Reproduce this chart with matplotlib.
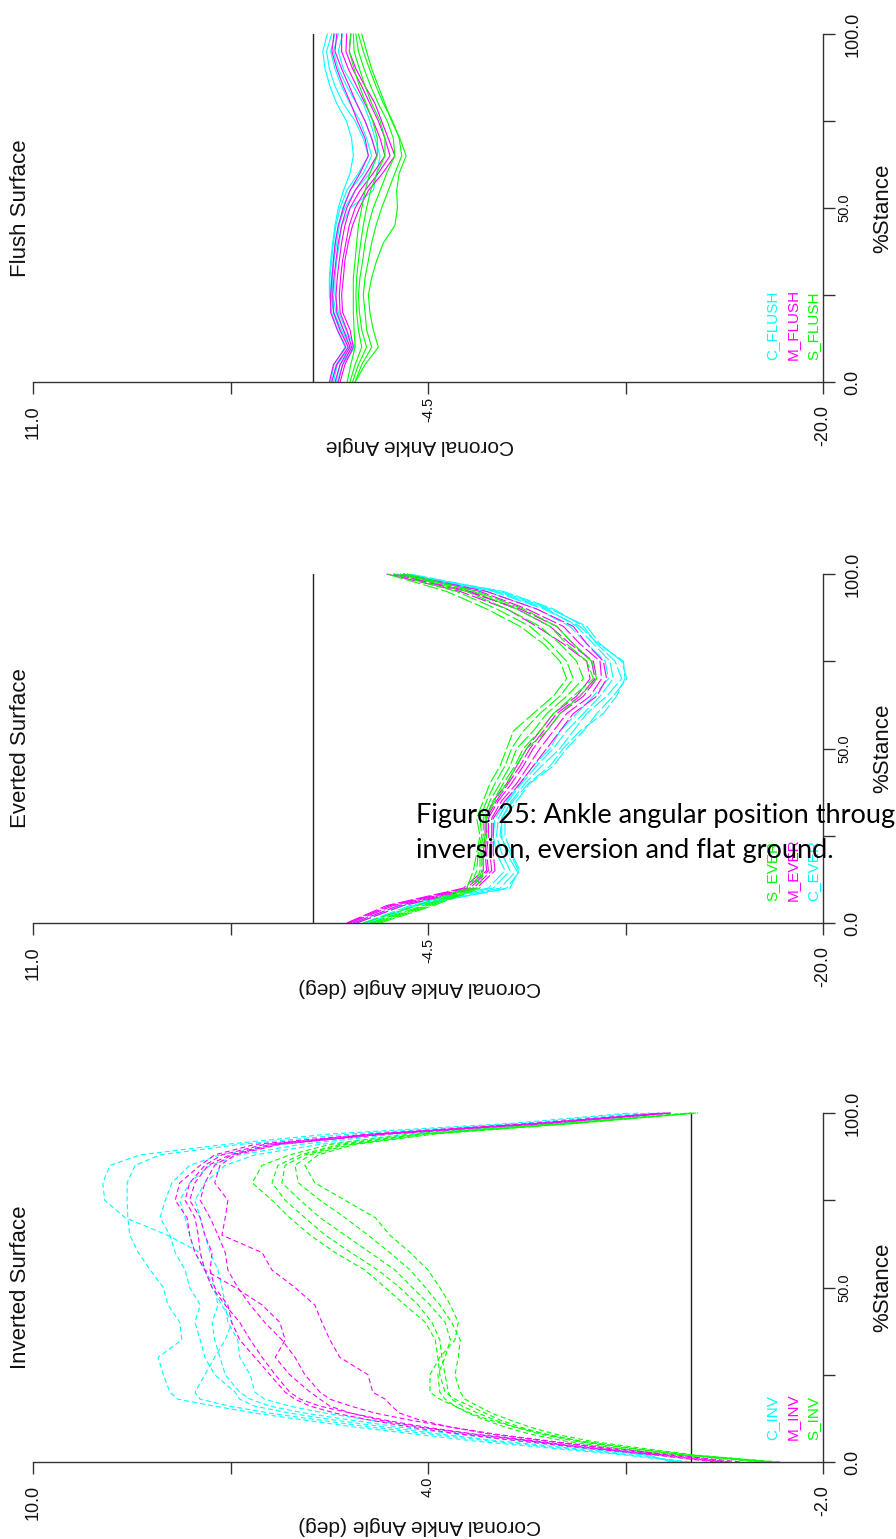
import matplotlib
matplotlib.use("Agg")
import matplotlib.pyplot as plt

plt.rcParams['font.family'] = ['Liberation Sans', 'DejaVu Sans']
plt.rcParams['lines.scale_dashes'] = False

# ---------------- data ----------------
stance21 = [0, 5, 10, 15, 20, 25, 30, 35, 40, 45, 50, 55, 60, 65, 70, 75, 80, 85, 90, 95, 100]
inv_stance = [0, 2, 4, 6, 8, 10, 12, 14, 16, 18, 20, 25, 30, 35, 40, 45, 50, 55, 60, 65, 70,
              75, 80, 85, 88, 91, 94, 97, 100]

flush_C = [
    [-0.68, -0.81, -1.24, -0.94, -0.72, -0.63, -0.63, -0.68, -0.76, -0.85, -0.98, -1.18, -1.44, -1.57, -1.50, -1.30, -0.92, -0.65, -0.46, -0.37, -0.55],
    [-0.79, -0.94, -1.44, -1.11, -0.81, -0.68, -0.65, -0.72, -0.79, -0.89, -1.05, -1.31, -1.77, -2.16, -1.96, -1.64, -1.18, -0.85, -0.63, -0.52, -0.72],
    [-0.89, -1.05, -1.57, -1.18, -0.89, -0.76, -0.76, -0.81, -0.92, -1.02, -1.15, -1.44, -1.96, -2.29, -2.09, -1.83, -1.44, -1.11, -0.85, -0.68, -0.85],
    [-0.73, -0.89, -1.37, -1.02, -0.79, -0.72, -0.72, -0.79, -0.86, -0.98, -1.24, -1.64, -2.22, -2.49, -2.29, -2.03, -1.70, -1.31, -0.98, -0.79, -0.98],
    [-0.94, -1.15, -1.64, -1.28, -0.98, -0.85, -0.85, -0.92, -1.02, -1.11, -1.44, -2.35, -2.49, -2.62, -2.42, -2.22, -1.96, -1.57, -1.18, -0.98, -1.15],
]
flush_M = [
    [-0.63, -0.79, -1.28, -0.94, -0.68, -0.68, -0.73, -0.79, -0.86, -0.98, -1.18, -1.44, -1.83, -2.16, -2.03, -1.73, -1.47, -1.18, -0.92, -0.73, -0.81],
    [-0.72, -0.92, -1.37, -1.05, -0.79, -0.76, -0.81, -0.89, -0.98, -1.11, -1.31, -1.64, -2.09, -2.49, -2.29, -2.03, -1.70, -1.41, -1.11, -0.85, -0.92],
    [-0.85, -1.05, -1.44, -1.18, -0.92, -0.89, -0.94, -1.02, -1.11, -1.24, -1.44, -1.83, -2.35, -2.81, -2.62, -2.35, -2.03, -1.70, -1.37, -1.11, -1.11],
    [-0.98, -1.15, -1.50, -1.31, -1.05, -1.02, -1.07, -1.15, -1.28, -1.41, -1.64, -2.03, -2.55, -3.01, -2.81, -2.55, -2.22, -1.90, -1.54, -1.28, -1.31],
    [-1.05, -1.24, -1.57, -1.44, -1.15, -1.11, -1.18, -1.24, -1.37, -1.54, -1.81, -2.16, -2.72, -3.20, -2.94, -2.68, -2.42, -2.03, -1.67, -1.41, -1.47],
]
flush_S = [
    [-1.33, -1.47, -1.64, -1.60, -1.57, -1.57, -1.57, -1.64, -1.70, -1.77, -1.90, -2.03, -2.22, -2.51, -2.51, -2.33, -2.07, -1.81, -1.60, -1.41, -1.47],
    [-1.44, -1.64, -1.90, -1.77, -1.70, -1.67, -1.70, -1.77, -1.86, -1.96, -2.09, -2.25, -2.49, -2.81, -2.81, -2.62, -2.29, -2.03, -1.81, -1.60, -1.57],
    [-1.54, -1.77, -2.09, -1.90, -1.81, -1.77, -1.83, -1.94, -2.03, -2.16, -2.35, -2.62, -2.88, -3.20, -3.14, -2.90, -2.55, -2.25, -1.99, -1.77, -1.67],
    [-1.64, -1.90, -2.29, -2.09, -2.03, -1.96, -2.03, -2.16, -2.29, -2.46, -2.68, -2.94, -3.20, -3.47, -3.37, -3.11, -2.75, -2.46, -2.20, -1.96, -1.77],
    [-1.64, -2.03, -2.55, -2.35, -2.22, -2.16, -2.29, -2.49, -2.75, -3.20, -3.30, -3.27, -3.37, -3.64, -3.40, -3.07, -2.81, -2.55, -2.29, -2.09, -1.90],
]

ever_C = [
    [-1.70, -3.53, -7.06, -7.72, -7.39, -7.19, -7.26, -7.65, -8.18, -8.76, -9.42, -9.94, -10.60, -11.25, -11.77, -11.64, -10.99, -10.33, -9.16, -7.19, -3.27],
    [-1.96, -3.79, -7.33, -7.98, -7.59, -7.39, -7.39, -7.78, -8.31, -8.96, -9.68, -10.20, -10.73, -11.51, -12.10, -11.84, -11.12, -10.60, -9.42, -7.46, -3.53],
    [-2.22, -4.06, -7.59, -8.11, -7.78, -7.52, -7.52, -7.98, -8.50, -9.42, -9.94, -10.60, -11.12, -11.77, -12.30, -12.10, -11.25, -10.73, -9.29, -7.33, -3.79],
    [-1.57, -3.40, -6.87, -7.52, -7.19, -7.06, -7.13, -7.59, -8.11, -8.63, -9.29, -9.68, -10.33, -10.99, -11.58, -11.45, -10.73, -10.07, -8.76, -6.80, -3.14],
    [-2.09, -3.92, -7.72, -8.05, -7.72, -7.33, -7.39, -7.85, -8.44, -9.29, -9.81, -10.46, -11.38, -11.90, -12.23, -12.17, -11.18, -10.46, -9.03, -7.06, -3.66],
]
ever_M = [
    [-1.31, -2.88, -5.89, -6.67, -6.67, -6.74, -6.74, -7.06, -7.59, -7.98, -8.37, -8.89, -9.42, -10.33, -10.86, -10.73, -9.81, -8.76, -7.59, -5.76, -2.88],
    [-1.44, -3.14, -6.15, -6.87, -6.80, -6.87, -6.87, -7.26, -7.78, -8.24, -8.63, -9.16, -9.68, -10.60, -11.12, -10.99, -10.07, -9.29, -7.98, -6.15, -3.14],
    [-1.57, -3.34, -6.28, -7.00, -6.93, -7.00, -7.00, -7.39, -7.98, -8.44, -8.89, -9.42, -9.94, -10.86, -11.31, -11.25, -10.46, -9.81, -8.37, -6.54, -3.40],
    [-1.37, -3.01, -6.02, -6.80, -6.74, -6.80, -6.80, -7.19, -7.65, -8.11, -8.50, -9.03, -9.55, -10.46, -11.05, -10.92, -10.20, -9.55, -8.11, -6.02, -3.01],
    [-1.70, -3.53, -6.41, -7.13, -7.06, -7.06, -7.06, -7.52, -8.11, -8.63, -9.16, -9.68, -10.20, -11.12, -11.51, -11.38, -10.73, -10.20, -8.76, -6.80, -3.53],
]
ever_S = [
    [-1.96, -4.06, -6.02, -6.28, -6.41, -6.54, -6.41, -6.67, -6.93, -7.33, -7.59, -7.85, -8.63, -9.42, -9.94, -9.68, -9.03, -8.11, -6.80, -5.23, -2.88],
    [-2.22, -4.32, -6.15, -6.41, -6.47, -6.61, -6.54, -6.80, -7.13, -7.52, -7.78, -8.24, -8.89, -9.68, -10.20, -9.94, -9.29, -8.50, -7.19, -5.62, -3.14],
    [-2.36, -4.45, -6.28, -6.54, -6.54, -6.67, -6.67, -6.93, -7.33, -7.72, -7.98, -8.63, -9.16, -9.94, -10.60, -10.33, -9.68, -8.89, -7.59, -6.02, -3.40],
    [-2.49, -4.58, -6.41, -6.61, -6.61, -6.74, -6.80, -7.06, -7.46, -7.91, -8.24, -8.89, -9.42, -10.20, -10.99, -10.73, -9.94, -9.29, -7.98, -6.28, -3.53],
    [-2.62, -4.71, -6.54, -6.67, -6.67, -6.80, -6.74, -7.13, -7.59, -7.98, -8.37, -9.16, -9.68, -10.46, -11.12, -10.92, -10.20, -9.55, -8.24, -6.41, -3.66],
]

inv_C = [
    [0.02, 0.93, 1.99, 3.06, 3.97, 4.88, 5.64, 6.40, 7.01, 7.46, 7.54, 7.39, 7.24, 7.08, 6.98, 7.13, 7.28, 7.39, 7.46, 7.96, 8.60, 8.91, 8.94, 8.83, 8.37, 7.08, 5.49, 2.75, 0.93],
    [0.10, 1.01, 2.15, 3.29, 4.20, 5.11, 5.87, 6.63, 7.24, 7.80, 7.92, 8.02, 8.10, 7.74, 7.77, 7.95, 8.02, 8.22, 8.40, 8.53, 8.56, 8.57, 8.57, 8.45, 8.07, 6.86, 5.17, 2.60, 0.78],
    [0.17, 0.78, 1.84, 2.90, 3.82, 4.65, 5.41, 6.10, 6.63, 6.86, 6.93, 7.24, 7.39, 7.46, 7.54, 7.46, 7.62, 7.69, 7.84, 7.92, 8.07, 7.99, 7.89, 7.62, 7.16, 6.25, 4.73, 2.30, 0.63],
    [0.25, 0.70, 1.69, 2.60, 3.59, 4.43, 5.17, 5.87, 6.40, 6.70, 6.86, 7.08, 7.16, 7.24, 7.28, 7.19, 7.24, 7.39, 7.54, 7.62, 7.69, 7.77, 7.62, 7.31, 6.86, 5.94, 4.43, 2.07, 0.48],
    [0.32, 0.63, 1.54, 2.45, 3.36, 4.12, 4.88, 5.56, 6.10, 6.48, 6.63, 6.70, 6.86, 6.89, 7.04, 7.08, 7.13, 7.19, 7.31, 7.39, 7.46, 7.54, 7.39, 7.08, 6.63, 5.64, 4.12, 1.84, 0.32],
]
inv_M = [
    [-0.44, 0.48, 1.54, 2.45, 3.36, 4.12, 4.73, 5.17, 5.49, 5.64, 5.79, 6.10, 6.32, 6.17, 6.25, 6.52, 6.93, 7.39, 7.54, 7.62, 7.66, 7.84, 7.77, 7.46, 7.24, 6.63, 4.88, 2.45, 0.48],
    [-0.59, 0.32, 1.31, 2.22, 3.06, 3.66, 4.12, 4.43, 4.55, 4.65, 4.84, 4.91, 5.34, 5.49, 5.61, 5.72, 6.02, 6.37, 6.52, 7.13, 7.08, 7.04, 7.24, 7.16, 6.93, 6.25, 4.58, 2.15, 0.32],
    [-0.51, 0.40, 1.46, 2.37, 3.29, 4.04, 4.65, 5.17, 5.64, 5.94, 6.10, 6.32, 6.52, 6.70, 6.86, 7.08, 7.28, 7.39, 7.46, 7.49, 7.54, 7.69, 7.62, 7.39, 7.13, 6.48, 4.80, 2.37, 0.40],
    [-0.36, 0.55, 1.61, 2.60, 3.51, 4.27, 4.88, 5.41, 5.79, 6.02, 6.17, 6.40, 6.63, 6.86, 6.98, 7.04, 7.24, 7.31, 7.28, 7.39, 7.46, 7.62, 7.54, 7.34, 7.01, 6.40, 4.73, 2.30, 0.35],
    [-0.74, 0.25, 1.24, 2.15, 2.98, 3.66, 4.27, 4.80, 5.17, 5.49, 5.64, 5.87, 6.02, 6.22, 6.48, 6.70, 6.89, 7.04, 7.08, 7.19, 7.31, 7.46, 7.39, 7.24, 6.98, 6.32, 4.65, 2.22, 0.29],
]
inv_S = [
    [-1.35, 0.02, 0.93, 1.69, 2.22, 2.60, 2.90, 3.13, 3.36, 3.59, 3.74, 3.82, 3.85, 3.89, 4.04, 4.35, 4.65, 4.96, 5.41, 5.79, 6.10, 6.37, 6.67, 6.52, 6.10, 5.49, 4.27, 1.99, 0.02],
    [-1.20, 0.10, 1.01, 1.77, 2.30, 2.68, 2.98, 3.24, 3.48, 3.64, 3.69, 3.74, 3.79, 3.82, 3.94, 4.15, 4.43, 4.76, 5.17, 5.56, 5.87, 6.17, 6.37, 6.28, 5.94, 5.34, 4.12, 1.92, -0.01],
    [-1.04, 0.17, 1.16, 1.92, 2.45, 2.83, 3.13, 3.39, 3.59, 3.74, 3.82, 3.85, 3.74, 3.66, 3.74, 3.97, 4.24, 4.50, 4.88, 5.26, 5.64, 5.94, 6.22, 6.17, 5.87, 5.26, 4.04, 1.87, -0.04],
    [-1.27, -0.06, 0.78, 1.54, 2.07, 2.45, 2.75, 3.03, 3.24, 3.44, 3.51, 3.59, 3.54, 3.51, 3.64, 3.82, 4.04, 4.27, 4.58, 4.91, 5.26, 5.64, 5.97, 6.02, 5.79, 5.17, 3.97, 1.81, -0.07],
    [-1.12, 0.02, 0.93, 1.69, 2.22, 2.68, 3.06, 3.36, 3.59, 3.82, 3.97, 3.97, 3.82, 3.59, 3.54, 3.66, 3.82, 4.00, 4.27, 4.58, 4.80, 5.26, 5.72, 5.87, 5.67, 5.11, 3.89, 1.77, -0.10],
]

angle_ticks_fe = [11.0, 3.25, -4.5, -12.25, -20.0]
angle_ticks_inv = [10.0, 7.0, 4.0, 1.0, -2.0]
stance_ticks = [0, 25, 50, 75, 100]

titles = ["Flush Surface", "Everted Surface", "Inverted Surface"]
xlabels = ["Coronal Ankle Angle", "Coronal Ankle Angle (deg)", "Coronal Ankle Angle (deg)"]
legend_flush = ["C_FLUSH", "M_FLUSH", "S_FLUSH"]
legend_ever = ["S_EVER", "M_EVER", "C_EVER"]
legend_inv = ["C_INV", "M_INV", "S_INV"]
caption = ["Figure 25: Ankle angular position throug",
           "inversion, eversion and flat ground."]

CYAN, MAGENTA, GREEN = '#00ffff', '#ff00ff', '#00ff00'
AXC = '#333333'

# ---------------- figure ----------------
W, H = 896, 1539
fig = plt.figure(figsize=(W / 100, H / 100), dpi=100)


def fx(px):
    return px / W


def fy(py):
    return 1 - py / H


def panel(top_px, bot_px, ticks, title, xlabel, groups, stance, dash, legend, leg_colors):
    ax = fig.add_axes([fx(33), fy(bot_px), (823 - 33) / W, (bot_px - top_px) / H])
    ax.set_xlim(ticks[0], ticks[-1])
    ax.set_ylim(0, 100)
    for s in ('top', 'left'):
        ax.spines[s].set_visible(False)
    for s in ('bottom', 'right'):
        ax.spines[s].set_color(AXC)
        ax.spines[s].set_linewidth(1.0)
    ax.xaxis.set_ticks_position('bottom')
    ax.yaxis.set_ticks_position('right')
    ax.yaxis.set_label_position('right')

    # angle ticks: ends labelled large, middle labelled small
    ax.set_xticks([ticks[0], ticks[-1]],
                  labels=['%.1f' % ticks[0], '%.1f' % ticks[-1]],
                  rotation=90, fontsize=13, color='#111111')
    ax.set_xticks(ticks[1:-1], minor=True,
                  labels=['', '%.1f' % ticks[2], ''],
                  rotation=90, fontsize=10.5, color='#111111')
    ax.tick_params(axis='x', which='major', direction='out', length=8.5, width=1, color=AXC, pad=8)
    ax.tick_params(axis='x', which='minor', direction='out', length=8.5, width=1, color=AXC, pad=2)

    ax.set_yticks([stance_ticks[0], stance_ticks[-1]], labels=['0.0', '100.0'],
                  rotation=90, va='center', fontsize=13, color='#111111')
    ax.set_yticks(stance_ticks[1:-1], minor=True, labels=['', '50.0', ''],
                  rotation=90, va='center', fontsize=10.5, color='#111111')
    ax.tick_params(axis='y', which='major', direction='out', length=8.5, width=1, color=AXC, pad=7)
    ax.tick_params(axis='y', which='minor', direction='out', length=8.5, width=1, color=AXC, pad=2)

    ax.set_xlabel(xlabel, rotation=180, fontsize=15, color='#111111')
    ax.xaxis.label.set_va('center')
    ax.xaxis.set_label_coords(0.49, -64 / (bot_px - top_px))
    ax.set_ylabel('%Stance', rotation=90, fontsize=16, color='#111111', va='center', ha='center')
    ax.yaxis.set_label_coords((883 - 33) / 790, 0.5)

    ax.axvline(0, color='#222222', lw=1.0, zorder=1)

    for traces, col in groups:
        for tr in traces:
            ax.plot(tr, stance, color=col, lw=0.8, linestyle=dash, zorder=2, clip_on=False)

    for k, (txt, col) in enumerate(zip(legend, leg_colors)):
        ax.text((772 + 20.5 * k - 33) / 790, 0.063, txt, transform=ax.transAxes,
                rotation=90, ha='center', va='bottom', fontsize=11, color=col)

    fig.text(fx(21), fy((top_px + bot_px) / 2), title, rotation=90,
             ha='center', va='center', fontsize=16, color='#111111')
    return ax


panel(34, 382, angle_ticks_fe, titles[0], xlabels[0],
      [(flush_C, CYAN), (flush_M, MAGENTA), (flush_S, GREEN)], stance21, '-',
      legend_flush, [CYAN, MAGENTA, GREEN])
panel(574, 923, angle_ticks_fe, titles[1], xlabels[1],
      [(ever_C, CYAN), (ever_M, MAGENTA), (ever_S, GREEN)], stance21, (0, (11, 2.2)),
      legend_ever, [GREEN, MAGENTA, CYAN])
panel(1113, 1462, angle_ticks_inv, titles[2], xlabels[2],
      [(inv_C, CYAN), (inv_M, MAGENTA), (inv_S, GREEN)], inv_stance, (0, (3.6, 2.2)),
      legend_inv, [CYAN, MAGENTA, GREEN])

fig.text(fx(416), fy(823), caption[0], fontsize=19.5, family=['Lato', 'DejaVu Sans'],
         ha='left', va='baseline', color='black')
fig.text(fx(416), fy(858), caption[1], fontsize=19.5, family=['Lato', 'DejaVu Sans'],
         ha='left', va='baseline', color='black')

fig.savefig('out.png', dpi=100)
